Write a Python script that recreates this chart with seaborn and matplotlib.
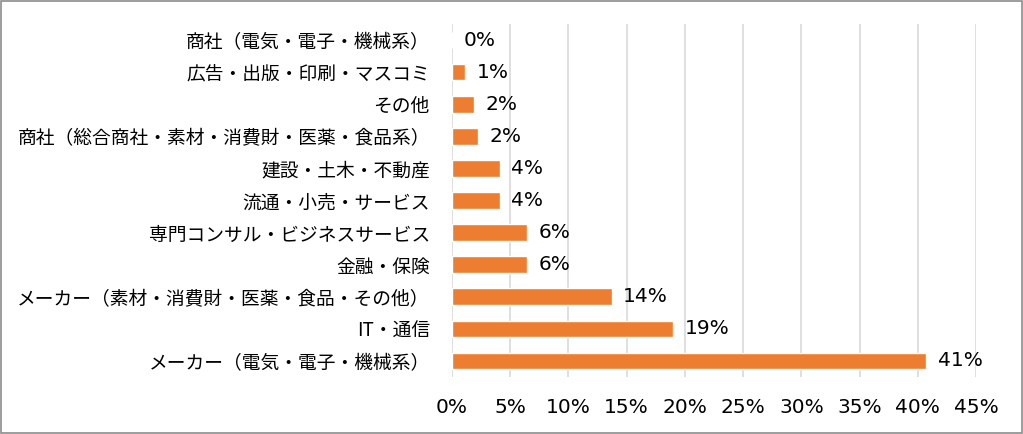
import matplotlib
matplotlib.use("Agg")
import matplotlib.pyplot as plt
import seaborn as sns
import pandas as pd
from matplotlib.patches import Rectangle

categories = [
    "商社（電気・電子・機械系）",
    "広告・出版・印刷・マスコミ",
    "その他",
    "商社（総合商社・素材・消費財・医薬・食品系）",
    "建設・土木・不動産",
    "流通・小売・サービス",
    "専門コンサル・ビジネスサービス",
    "金融・保険",
    "メーカー（素材・消費財・医薬・食品・その他）",
    "IT・通信",
    "メーカー（電気・電子・機械系）",
]
values = [0.0, 1.1, 1.9, 2.2, 4.1, 4.1, 6.4, 6.4, 13.7, 19.0, 40.7]
ticks = [0, 5, 10, 15, 20, 25, 30, 35, 40, 45]

sns.set_theme(style="white")
plt.rcParams["font.family"] = ["Noto Sans CJK JP", "DejaVu Sans"]
num_font = ["DejaVu Sans"]

df = pd.DataFrame({"category": categories, "value": values})

fig = plt.figure(figsize=(10.23, 4.34), dpi=100)
ax = fig.add_axes([452 / 1023, 1 - 377 / 434, (976 - 452) / 1023, (377 - 24) / 434])

sns.barplot(data=df, x="value", y="category", orient="h", color="#ED7D31",
            saturation=1, width=0.52, ax=ax, zorder=3)

for i, v in enumerate(values):
    ax.text(v + 1.0, i, f"{round(v):.0f}%", va="center", ha="left",
            fontsize=14.5, color="black", family=num_font)

ax.set_xlim(0, 45)
ax.set_xticks(ticks)
ax.set_xticklabels([f"{t}%" for t in ticks], fontsize=14.5, family=num_font)
ax.set_ylim(len(categories) - 0.5, -0.5)
ax.tick_params(axis="y", labelsize=13.5, pad=16, length=0, labelcolor="black")
ax.tick_params(axis="x", pad=15, length=0, labelcolor="black")
ax.set_xlabel("")
ax.set_ylabel("")
ax.grid(axis="x", color="#D9D9D9", linewidth=1.2, zorder=0)
for s in ax.spines.values():
    s.set_visible(False)

fig.patches.append(Rectangle((0.001, 0.002), 0.998, 0.996, transform=fig.transFigure,
                             fill=False, edgecolor="#8C8C8C", linewidth=1.2))

fig.savefig("out.png", dpi=100)
